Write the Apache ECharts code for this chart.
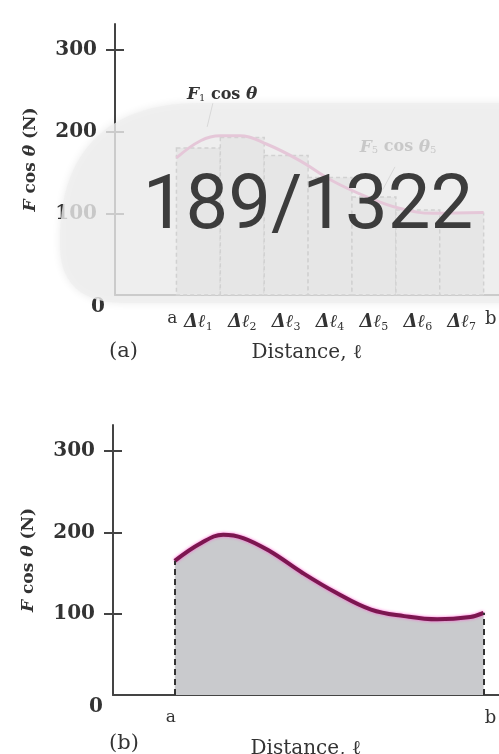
<!DOCTYPE html>
<html>
<head>
<meta charset="utf-8">
<script src="https://cdn.jsdelivr.net/npm/echarts@6/dist/echarts.min.js"></script>
<style>
html, body { margin: 0; padding: 0; background: #fff; }
#chart { width: 499px; height: 754px; }
</style>
</head>
<body>
<div id="chart"></div>
<script>
// 数据
var yTicks = [0, 100, 200, 300];
var yMax = 332;
var xMax = 8.75;

// (a) 分段
var edges = [1.4, 2.4, 3.4, 4.4, 5.4, 6.4, 7.4, 8.4];
var barTops = [180, 193, 171, 144, 120, 104, 100];
var distA = [1.4, 1.95, 2.4, 2.85, 3.45, 4.2, 4.95, 5.75, 6.5, 7.25, 8.4];
var forceA = [168, 189, 195, 195, 185, 165, 140, 120, 106, 100, 101];
var labelPosA = [1.9, 2.9, 3.9, 4.9, 5.9, 6.9, 7.9];
var labelTextA = ['Δℓ1', 'Δℓ2', 'Δℓ3', 'Δℓ4', 'Δℓ5', 'Δℓ6', 'Δℓ7'];
var endPos = [1.4, 8.4];
var endText = ['a', 'b'];

// (b) 曲线
var distB = [1.4, 2.0, 2.5, 2.95, 3.55, 4.3, 5.05, 5.85, 6.6, 7.35, 8.1, 8.4];
var forceB = [165, 187, 197, 193, 177, 150, 126, 105, 97, 93, 96, 101];

var serif = 'DejaVu Serif';
var ink = '#333';

function xFormatter(pos, texts) {
    return function (v) {
        var best = 0;
        for (var i = 1; i < pos.length; i++) {
            if (Math.abs(pos[i] - v) < Math.abs(pos[best] - v)) best = i;
        }
        var t = texts[best];
        if (t === 'a') return '{ua|a}';
        if (t === 'b') return '{ub|b}';
        return '{d|' + t.slice(0, 2) + '}{s|' + t.slice(2) + '}';
    };
}

var xRich = {
    ua: { fontFamily: serif, fontSize: 17, color: ink, padding: [0, 8, 0, 0] },
    ub: { fontFamily: serif, fontSize: 18, color: ink, padding: [0, 0, 0, 14] },
    d: { fontFamily: serif, fontSize: 18, fontWeight: 'bold', fontStyle: 'italic', color: ink, lineHeight: 22 },
    s: { fontFamily: serif, fontSize: 11, color: ink, lineHeight: 10, verticalAlign: 'bottom' }
};

function yFormatter(v) {
    return v === 0 ? '{z|0}' : '{n|' + v + '}';
}
var yRich = {
    n: { fontFamily: serif, fontSize: 20, fontWeight: 'bold', color: ink, padding: [0, 8, 0, 0] },
    z: { fontFamily: serif, fontSize: 20, fontWeight: 'bold', color: ink, padding: [24, 0, 0, 0] }
};

var yName = '{i|F} cos {i|θ} (N)';
var yNameStyle = {
    fontFamily: serif, fontSize: 17, color: ink, fontWeight: 'bold',
    rich: { i: { fontFamily: serif, fontSize: 17, fontStyle: 'italic', fontWeight: 'bold', color: ink } }
};

function xAxis(grid, pos, texts, gap, margin) {
    return {
        type: 'value', gridIndex: grid, min: 0, max: xMax, position: 'bottom',
        name: 'Distance, ℓ', nameLocation: 'middle', nameGap: gap,
        nameTextStyle: { fontFamily: serif, fontSize: 20, color: ink },
        axisLine: { lineStyle: { color: '#444', width: 2 } },
        axisTick: { show: false },
        splitLine: { show: false },
        axisLabel: { customValues: pos, formatter: xFormatter(pos, texts), rich: xRich, margin: margin, hideOverlap: false }
    };
}
function xAxisEnds(grid, margin) {
    return {
        type: 'value', gridIndex: grid, min: 0, max: xMax, position: 'bottom',
        axisLine: { show: false },
        axisTick: { show: false },
        splitLine: { show: false },
        axisLabel: { customValues: endPos, formatter: xFormatter(endPos, endText), rich: xRich, margin: margin }
    };
}

function yAxisMain(grid) {
    return {
        type: 'value', gridIndex: grid, min: 0, max: yMax, position: 'left',
        name: yName, nameLocation: 'middle', nameGap: 76, nameTextStyle: yNameStyle,
        axisLine: { show: true, lineStyle: { color: '#444', width: 2 } },
        axisTick: { show: true, customValues: [100, 200, 300], length: 9, lineStyle: { color: '#444', width: 2 } },
        splitLine: { show: false },
        axisLabel: { customValues: yTicks, formatter: yFormatter, rich: yRich, margin: 10 }
    };
}
function yAxisInner(grid) {
    return {
        type: 'value', gridIndex: grid, min: 0, max: yMax, position: 'left',
        axisLine: { show: false },
        axisTick: { show: true, inside: true, customValues: [100, 200, 300], length: 9, lineStyle: { color: '#444', width: 2 } },
        splitLine: { show: false },
        axisLabel: { show: false }
    };
}

// 遮罩的轮廓（左上大圆角，左下小圆角）
function overlayPoints() {
    var pts = [[200, 103], [520, 103], [520, 303], [125, 303]];
    var t, u, i;
    for (i = 1; i <= 12; i++) {
        t = i / 12;
        u = 1 - t;
        pts.push([u * u * 125 + 2 * u * t * 60 + t * t * 60,
                  u * u * 303 + 2 * u * t * 303 + t * t * 245]);
    }
    pts.push([60, 235]);
    for (i = 1; i <= 24; i++) {
        t = i / 24;
        u = 1 - t;
        pts.push([u * u * u * 60 + 3 * u * u * t * 62 + 3 * u * t * t * 120 + t * t * t * 200,
                  u * u * u * 235 + 3 * u * u * t * 140 + 3 * u * t * t * 103 + t * t * t * 103]);
    }
    return pts;
}

var myChart = echarts.init(document.getElementById('chart'));

var titleStyle = { fontFamily: serif, fontSize: 21, fontWeight: 'normal', color: ink };

var option = {
    backgroundColor: '#fff',
    animation: false,
    title: [
        { text: '(a)', left: 109, top: 341, padding: 0, textStyle: titleStyle },
        { text: '(b)', left: 109, top: 733, padding: 0, textStyle: titleStyle }
    ],
    grid: [
        { left: 115, right: 0, top: 24, bottom: 754 - 295, outerBoundsMode: 'none', containLabel: false },
        { left: 113, right: 0, top: 425, bottom: 754 - 695, outerBoundsMode: 'none', containLabel: false }
    ],
    xAxis: [
        xAxis(0, labelPosA, labelTextA, 48, 16),
        xAxis(1, endPos, endText, 44, 14),
        xAxisEnds(0, 15)
    ],
    yAxis: [yAxisMain(0), yAxisInner(0), yAxisMain(1), yAxisInner(1)],
    series: [
        {
            // (a) 矩形条
            type: 'custom', xAxisIndex: 0, yAxisIndex: 0,
            data: barTops.map(function (h, i) { return [edges[i], edges[i + 1], h]; }),
            encode: { x: [0, 1], y: 2 },
            renderItem: function (params, api) {
                var p0 = api.coord([api.value(0), 0]);
                var p1 = api.coord([api.value(1), api.value(2)]);
                return {
                    type: 'rect',
                    shape: { x: p0[0], y: p1[1], width: p1[0] - p0[0], height: p0[1] - p1[1] },
                    style: { fill: '#d6d6d6', stroke: '#666', lineWidth: 1.5, lineDash: [4, 3] }
                };
            }
        },
        {
            // (a) 曲线
            type: 'line', xAxisIndex: 0, yAxisIndex: 0, smooth: 0.4, showSymbol: false,
            data: distA.map(function (d, i) { return [d, forceA[i]]; }),
            lineStyle: { color: '#d0308a', width: 3 },
            markPoint: {
                symbol: 'circle', symbolSize: 1, itemStyle: { color: 'rgba(0,0,0,0)' },
                label: {
                    show: true, position: 'inside', color: ink,
                    rich: {
                        i: { fontFamily: serif, fontSize: 17, fontStyle: 'italic', fontWeight: 'bold', color: ink },
                        t: { fontFamily: serif, fontSize: 16, fontWeight: 'bold', color: ink },
                        s: { fontFamily: serif, fontSize: 10, color: ink, lineHeight: 10, verticalAlign: 'bottom' }
                    }
                },
                data: [
                    { coord: [2.44, 245], label: { formatter: '{i|F}{s|1}{t| cos }{i|θ}' } },
                    { coord: [6.45, 181], label: { formatter: '{i|F}{s|5}{t| cos }{i|θ}{s|5}' } }
                ]
            },
            markLine: {
                silent: true, symbol: 'none', label: { show: false },
                lineStyle: { color: '#888', width: 1, type: 'solid' },
                data: [
                    [{ coord: [2.23, 235] }, { coord: [2.1, 206] }],
                    [{ coord: [6.38, 157] }, { coord: [6.1, 129] }]
                ]
            }
        },
        {
            // (b) 面积曲线
            type: 'line', xAxisIndex: 1, yAxisIndex: 2, smooth: 0.4, showSymbol: false,
            data: distB.map(function (d, i) { return [d, forceB[i]]; }),
            lineStyle: { color: '#7c1650', width: 4, shadowColor: 'rgba(255,90,210,0.95)', shadowBlur: 3 },
            areaStyle: { color: '#c9cacd', opacity: 1 },
            markLine: {
                silent: true, symbol: 'none', label: { show: false },
                lineStyle: { color: '#333', width: 2, type: [6, 4] },
                data: [
                    [{ coord: [distB[0], 0] }, { coord: [distB[0], forceB[0]] }],
                    [{ coord: [distB[distB.length - 1], 0] }, { coord: [distB[distB.length - 1], forceB[forceB.length - 1]] }]
                ]
            }
        }
    ],
    graphic: [
        {
            type: 'polygon', z: 100,
            shape: { points: overlayPoints() },
            style: { fill: 'rgba(239,239,239,0.8)', shadowBlur: 8, shadowColor: 'rgba(0,0,0,0.1)' }
        },
        {
            type: 'text', z: 101, x: 308, y: 209,
            style: { text: '189/1322', font: '76px Roboto', fill: '#3c3c3c', textAlign: 'center', textVerticalAlign: 'middle' }
        }
    ]
};

myChart.setOption(option);
</script>
</body>
</html>
